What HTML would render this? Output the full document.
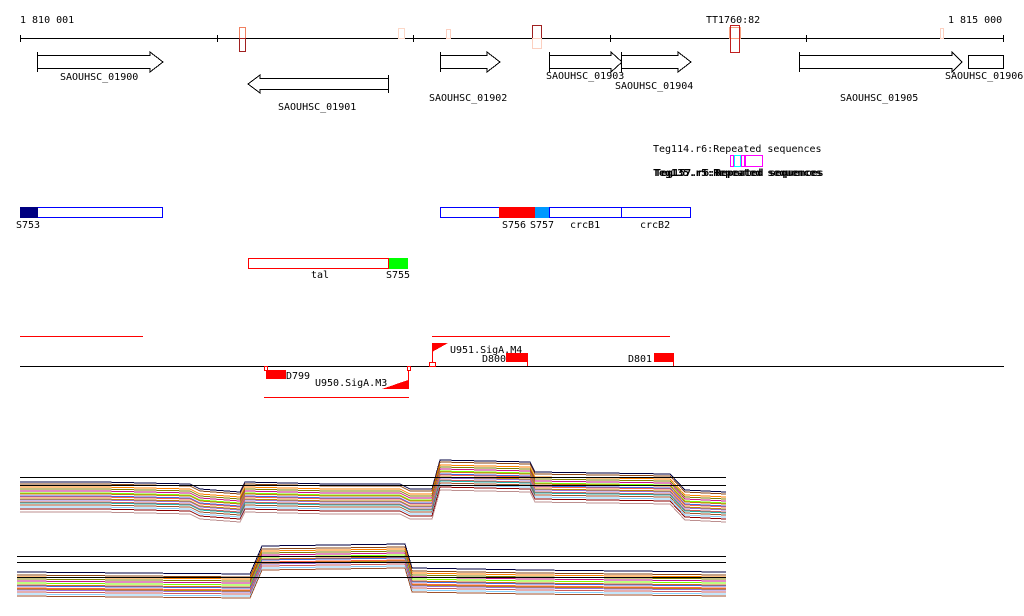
<!DOCTYPE html>
<html><head><style>
body{margin:0;background:#fff;width:1024px;height:611px;overflow:hidden}
text{font-family:"DejaVu Sans Mono","Liberation Mono",monospace;font-size:10px;fill:#000}
</style></head><body>
<svg width="1024" height="611" xmlns="http://www.w3.org/2000/svg" shape-rendering="crispEdges">
<text x="20" y="23">1 810 001</text>
<text x="706" y="23">TT1760:82</text>
<text x="948" y="23">1 815 000</text>
<line x1="20" y1="38.5" x2="1004" y2="38.5" stroke="#000"/>
<g stroke="#000"><line x1="20.5" y1="35" x2="20.5" y2="42"/><line x1="217.5" y1="35" x2="217.5" y2="42"/><line x1="413.5" y1="35" x2="413.5" y2="42"/><line x1="610.5" y1="35" x2="610.5" y2="42"/><line x1="806.5" y1="35" x2="806.5" y2="42"/><line x1="1003.5" y1="35" x2="1003.5" y2="42"/></g>
<g fill="none">
<rect x="239.5" y="27.5" width="6" height="11" stroke="#f08060"/><rect x="239.5" y="38.5" width="6" height="13" stroke="#a02020"/>
<rect x="398.5" y="28.5" width="6" height="10" stroke="#fcd8c8"/>
<rect x="446.5" y="29.5" width="4" height="9" stroke="#fcd0c0"/>
<rect x="532.5" y="25.5" width="9" height="13" stroke="#a02020"/><rect x="532.5" y="38.5" width="9" height="10" stroke="#fcd0c0"/>
<rect x="729.5" y="27.5" width="11" height="11" stroke="#f8a080"/><rect x="730.5" y="25.5" width="9" height="27" stroke="#c02020"/>
<rect x="940.5" y="28.5" width="3" height="10" stroke="#fcd0c0"/>
</g>
<g fill="#fff" stroke="#000">
<polygon points="37.5,52 37.5,72 37.5,68.5 150,68.5 150,72 163,62 150,52 150,55.5 37.5,55.5"/>
<polygon points="388.5,75 388.5,93 388.5,89.5 260,89.5 260,93 248,84 260,75 260,78.5 388.5,78.5"/>
<polygon points="440.5,52 440.5,72 440.5,68.5 487,68.5 487,72 500,62 487,52 487,55.5 440.5,55.5"/>
<polygon points="549.5,52 549.5,72 549.5,68.5 611,68.5 611,72 622,62 611,52 611,55.5 549.5,55.5"/>
<polygon points="621.5,52 621.5,72 621.5,68.5 678,68.5 678,72 691,62 678,52 678,55.5 621.5,55.5"/>
<polygon points="799.5,52 799.5,72 799.5,68.5 952,68.5 952,72 962,62 952,52 952,55.5 799.5,55.5"/>
<rect x="968.5" y="55.5" width="35" height="13"/>
</g>
<text x="60" y="80">SAOUHSC_01900</text>
<text x="278" y="110">SAOUHSC_01901</text>
<text x="429" y="101">SAOUHSC_01902</text>
<text x="546" y="79">SAOUHSC_01903</text>
<text x="615" y="89">SAOUHSC_01904</text>
<text x="840" y="101">SAOUHSC_01905</text>
<text x="945" y="79">SAOUHSC_01906</text>
<text x="653" y="152">Teg114.r6:Repeated sequences</text>
<g fill="none"><rect x="730.5" y="155.5" width="3" height="11" stroke="#f0f"/><rect x="734.5" y="155.5" width="6" height="11" stroke="#0ff"/><rect x="741.5" y="155.5" width="3" height="11" stroke="#f0f"/><rect x="745.5" y="155.5" width="17" height="11" stroke="#f0f"/></g>
<text x="653" y="176" font-weight="bold">Teg135.r5:Repeated sequences</text>
<text x="655" y="176" font-weight="bold">Teg157.r6:Repeated sequences</text>
<rect x="20.5" y="207.5" width="142" height="10" fill="#fff" stroke="#00f"/><rect x="20" y="207" width="18" height="11" fill="#000080"/>
<text x="16" y="228">S753</text>
<rect x="440.5" y="207.5" width="250" height="10" fill="#fff" stroke="#00f"/>
<rect x="499" y="207" width="36" height="11" fill="#f00"/><rect x="535" y="207" width="14" height="11" fill="#09f"/>
<line x1="549.5" y1="207" x2="549.5" y2="218" stroke="#00f"/><line x1="621.5" y1="207" x2="621.5" y2="218" stroke="#00f"/>
<text x="502" y="228">S756</text><text x="530" y="228">S757</text><text x="570" y="228">crcB1</text><text x="640" y="228">crcB2</text>
<rect x="248.5" y="258.5" width="140" height="10" fill="#fff" stroke="#f00"/><rect x="389" y="258" width="19" height="11" fill="#0f0"/>
<text x="311" y="278">tal</text><text x="386" y="278">S755</text>
<g stroke="#f00"><line x1="20" y1="336.5" x2="143" y2="336.5"/><line x1="432" y1="336.5" x2="670" y2="336.5"/><line x1="264" y1="397.5" x2="409" y2="397.5"/></g>
<line x1="20" y1="366.5" x2="1004" y2="366.5" stroke="#000"/>
<g fill="#f00" stroke="none"><rect x="266" y="370" width="20" height="9"/><rect x="506" y="353" width="21" height="9"/><rect x="654" y="353" width="19" height="9"/>
<polygon points="382,389 408,380 408,389"/><polygon points="432,343 448,343 432,352"/></g>
<g stroke="#f00" fill="#fff"><rect x="264.5" y="366.5" width="3" height="4"/><rect x="407.5" y="366.5" width="3" height="4"/><rect x="429.5" y="362.5" width="6" height="4"/>
<line x1="408.5" y1="370" x2="408.5" y2="389"/><line x1="432.5" y1="343" x2="432.5" y2="362"/><line x1="527.5" y1="353" x2="527.5" y2="366"/><line x1="673.5" y1="353" x2="673.5" y2="366"/></g>
<text x="286" y="379">D799</text><text x="315" y="386">U950.SigA.M3</text><text x="450" y="353">U951.SigA.M4</text><text x="482" y="362">D800</text><text x="628" y="362">D801</text>
<defs>
<path id="p1" d="M20,492 L100,492 L190,494 L200,499 L240,502 L245,492 L330,494 L400,494 L410,499 L432,499 L440,470 L530,472 L535,482 L670,484 L685,500 L726,502" fill="none"/>
<path id="p2" d="M17,582 L250,584 L262,556 L405,554 L412,578 L530,580 L726,582" fill="none"/>
</defs>
<g stroke-width="1">
<use href="#p1" stroke="#000040" y="-10"/><use href="#p1" stroke="#8b4513" y="-8"/><use href="#p1" stroke="#ff7f00" y="-5"/><use href="#p1" stroke="#808000" y="-3"/><use href="#p1" stroke="#c71585" y="-1"/><use href="#p1" stroke="#7cfc00" y="1"/><use href="#p1" stroke="#d2691e" y="2"/><use href="#p1" stroke="#4169e1" y="4"/><use href="#p1" stroke="#ff6347" y="5"/><use href="#p1" stroke="#b8860b" y="7"/><use href="#p1" stroke="#9370db" y="8"/><use href="#p1" stroke="#cd5c5c" y="10"/><use href="#p1" stroke="#20b2aa" y="11"/><use href="#p1" stroke="#a0522d" y="13"/><use href="#p1" stroke="#87cefa" y="15"/><use href="#p1" stroke="#8b0000" y="17"/><use href="#p1" stroke="#bc8f8f" y="20"/>
<use href="#p2" stroke="#000040" y="-10"/><use href="#p2" stroke="#8b4513" y="-7"/><use href="#p2" stroke="#ff7f00" y="-5"/><use href="#p2" stroke="#808000" y="-3"/><use href="#p2" stroke="#c71585" y="-1"/><use href="#p2" stroke="#7cfc00" y="1"/><use href="#p2" stroke="#d2691e" y="3"/><use href="#p2" stroke="#4169e1" y="4"/><use href="#p2" stroke="#ff6347" y="6"/><use href="#p2" stroke="#b8860b" y="7"/><use href="#p2" stroke="#9370db" y="8"/><use href="#p2" stroke="#cd5c5c" y="10"/><use href="#p2" stroke="#87cefa" y="12"/><use href="#p2" stroke="#a0522d" y="14"/>
</g>
<g stroke="#000"><line x1="20" y1="477.5" x2="726" y2="477.5"/><line x1="20" y1="485.5" x2="726" y2="485.5"/>
<line x1="17" y1="556.5" x2="726" y2="556.5"/><line x1="17" y1="562.5" x2="726" y2="562.5"/><line x1="17" y1="577.5" x2="726" y2="577.5"/></g>
</svg>
</body></html>
